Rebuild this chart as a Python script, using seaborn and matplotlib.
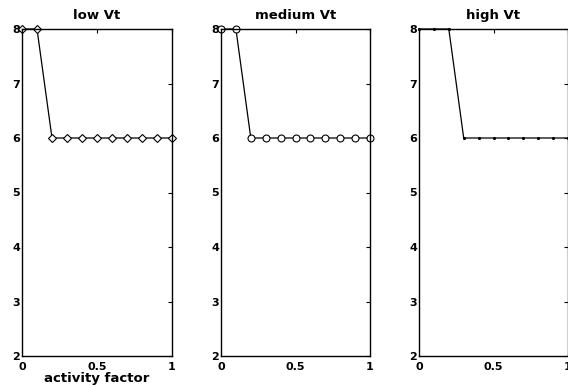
import matplotlib
matplotlib.use("Agg")
import matplotlib.pyplot as plt
import seaborn as sns
import pandas as pd

sns.set_theme(style="white")
plt.rcParams['font.family'] = ['DejaVu Sans']
plt.rcParams['text.color'] = 'black'
plt.rcParams['axes.labelcolor'] = 'black'
plt.rcParams['xtick.color'] = 'black'
plt.rcParams['ytick.color'] = 'black'

activity = [0.0, 0.1, 0.2, 0.3, 0.4, 0.5, 0.6, 0.7, 0.8, 0.9, 1.0]
low_vt = [8, 8, 6, 6, 6, 6, 6, 6, 6, 6, 6]
medium_vt = [8, 8, 6, 6, 6, 6, 6, 6, 6, 6, 6]
high_vt = [8, 8, 8, 6, 6, 6, 6, 6, 6, 6, 6]
titles = ["low Vt", "medium Vt", "high Vt"]
xticks = [0, 0.5, 1]
yticks = [2, 3, 4, 5, 6, 7, 8]

fig = plt.figure(figsize=(5.68, 3.88), dpi=100)
lefts = [22 / 568, 221 / 568, 419 / 568]
widths = [150 / 568, 149 / 568, 149 / 568]
bottom = 32 / 388
height = 327 / 388

series = [low_vt, medium_vt, high_vt]
markers = [dict(marker='D', markersize=4.5, markerfacecolor='white', markeredgecolor='black', markeredgewidth=0.8),
           dict(marker='o', markersize=5, markerfacecolor='white', markeredgecolor='black', markeredgewidth=0.8),
           dict(marker='.', markersize=3, markerfacecolor='black', markeredgecolor='black')]

for i in range(3):
    ax = fig.add_axes([lefts[i], bottom, widths[i], height])
    df = pd.DataFrame({"x": activity, "y": series[i]})
    sns.lineplot(data=df, x="x", y="y", ax=ax, color='black', linewidth=0.9,
                 clip_on=False, **markers[i])
    ax.set_xlim(0, 1)
    ax.set_ylim(2, 8)
    ax.set_xticks(xticks)
    ax.set_xticklabels(["0", "0.5", "1"])
    ax.set_yticks(yticks)
    ax.set_yticklabels([str(v) for v in yticks])
    ax.tick_params(direction='in', length=3, width=0.8, top=True, right=True,
                   labelsize=8, colors='black')
    ax.tick_params(axis='x', pad=4.5)
    ax.tick_params(axis='y', pad=1.5)
    for lab in ax.get_xticklabels() + ax.get_yticklabels():
        lab.set_fontweight('bold')
    for sp in ax.spines.values():
        sp.set_visible(True)
        sp.set_color('black')
        sp.set_linewidth(1.0)
    ax.set_title(titles[i], fontsize=9.5, fontweight='bold', pad=7, color='black')
    ax.set_ylabel("")
    if i == 0:
        ax.set_xlabel("activity factor", fontsize=9.5, fontweight='bold', labelpad=0, color='black')
    else:
        ax.set_xlabel("")

fig.savefig("out.png", dpi=100)
